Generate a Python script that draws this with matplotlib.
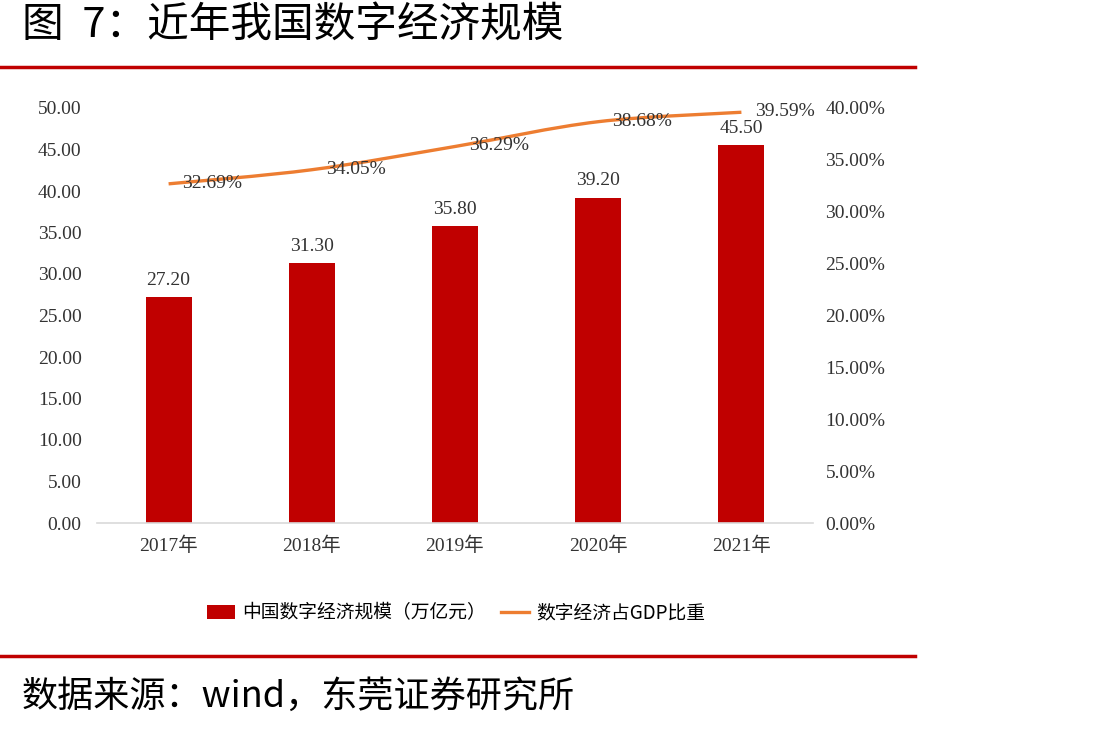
import matplotlib
matplotlib.use("Agg")
from matplotlib import pyplot as plt
from matplotlib.path import Path
from matplotlib.patches import PathPatch, Patch
from matplotlib.lines import Line2D
from matplotlib.ticker import FuncFormatter, MultipleLocator

years = ['2017年', '2018年', '2019年', '2020年', '2021年']
scale = [27.2, 31.3, 35.8, 39.2, 45.5]          # 万亿元
share = [32.69, 34.05, 36.29, 38.68, 39.59]     # % of GDP

BAR_RED = '#C00000'
LINE_ORANGE = '#ED7D31'

plt.rcParams['font.family'] = ['Liberation Serif', 'Noto Sans CJK SC']
CJK = ['Noto Sans CJK SC', 'DejaVu Sans']


def smooth_path(xs, ys):
    '''Bezier path through the points (Excel style smoothed line)'''
    pts = list(zip(xs, ys))
    n = len(pts)
    verts = [pts[0]]
    codes = [Path.MOVETO]
    for i in range(n - 1):
        p0 = pts[i - 1] if i > 0 else pts[i]
        p1 = pts[i]
        p2 = pts[i + 1]
        p3 = pts[i + 2] if i + 2 < n else pts[i + 1]
        c1 = (p1[0] + (p2[0] - p0[0]) / 6, p1[1] + (p2[1] - p0[1]) / 6)
        c2 = (p2[0] - (p3[0] - p1[0]) / 6, p2[1] - (p3[1] - p1[1]) / 6)
        verts += [c1, c2, p2]
        codes += [Path.CURVE4] * 3
    return Path(verts, codes)


fig = plt.figure(figsize=(11.06, 7.29), dpi=100)
fig.patch.set_facecolor('white')

ax = fig.add_axes([97 / 1106, 1 - 523 / 729, (813 - 97) / 1106, (523 - 108) / 729])
x = list(range(len(years)))
bars = ax.bar(x, scale, width=0.32, color=BAR_RED, zorder=2)
ax.set_xlim(-0.5, len(years) - 0.5)
ax.set_ylim(0, 50)
ax.yaxis.set_major_locator(MultipleLocator(5))
ax.yaxis.set_major_formatter(FuncFormatter(lambda v, p: '%.2f' % v))
ax.set_xticks(x)
ax.set_xticklabels(years)
for s in ['top', 'right', 'left']:
    ax.spines[s].set_visible(False)
ax.spines['bottom'].set_color('#D9D9D9')
ax.spines['bottom'].set_linewidth(1.2)
ax.tick_params(axis='both', length=0, labelsize=14, colors='#333333')
ax.tick_params(axis='y', pad=11)
ax.tick_params(axis='x', pad=10)

for xi, v in zip(x, scale):
    ax.annotate('%.2f' % v, (xi, v), xytext=(0, 6), textcoords='offset points',
                ha='center', va='bottom', fontsize=14, color='#333333')

ax2 = ax.twinx()
ax2.set_ylim(0, 40)
ax2.yaxis.set_major_locator(MultipleLocator(5))
ax2.yaxis.set_major_formatter(FuncFormatter(lambda v, p: '%.2f%%' % v))
for s in ['top', 'right', 'left', 'bottom']:
    ax2.spines[s].set_visible(False)
ax2.tick_params(axis='y', length=0, labelsize=14, colors='#333333', pad=9)

ax2.add_patch(PathPatch(smooth_path(x, share), facecolor='none',
                        edgecolor=LINE_ORANGE, linewidth=2.4, zorder=3))
for xi, v in zip(x, share):
    ax2.annotate('%.2f%%' % v, (xi, v), xytext=(10, 0.5), textcoords='offset points',
                 ha='left', va='center', fontsize=14, color='#333333')

handles = [Patch(facecolor=BAR_RED, edgecolor='none'),
           Line2D([0], [0], color=LINE_ORANGE, lw=2.4)]
fig.legend(handles, ['中国数字经济规模（万亿元）', '数字经济占GDP比重'],
           loc='center', bbox_to_anchor=(456 / 1106, 1 - 613 / 729), ncol=2,
           frameon=False, prop={'family': CJK, 'size': 13.5},
           handlelength=1.5, handleheight=0.7, handletextpad=0.4, columnspacing=0.8)

# header / footer
fig.text(22 / 1106, 1 - 25 / 729, '图  7：近年我国数字经济规模', family=CJK,
         fontsize=30, fontweight='medium', va='center', ha='left', color='black')
fig.add_artist(Line2D([0, 915 / 1106], [1 - 67 / 729] * 2, color=BAR_RED, lw=2.5))
fig.add_artist(Line2D([0, 915 / 1106], [1 - 656 / 729] * 2, color=BAR_RED, lw=2.5))
fig.text(22 / 1106, 1 - 697 / 729, '数据来源：wind，东莞证券研究所', family=CJK,
         fontsize=26, va='center', ha='left', color='black')

fig.savefig('out.png', dpi=100, facecolor='white')
